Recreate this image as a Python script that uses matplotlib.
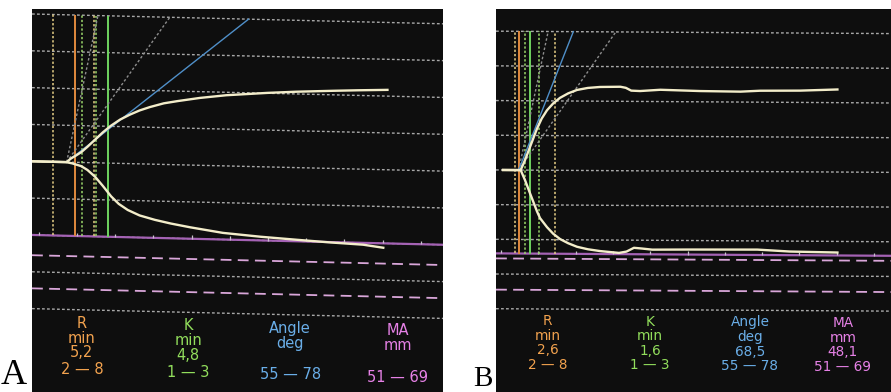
import numpy as np
import matplotlib
matplotlib.use("Agg")
import matplotlib.pyplot as plt
import matplotlib.transforms as mtransforms

# readout under each trace
param_names = ["R", "K", "Angle", "MA"]
param_units = ["min", "min", "deg", "mm"]
param_ranges = ["2 — 8", "1 — 3", "55 — 78", "51 — 69"]
param_colors = ["#f2a24e", "#92de5c", "#6aaee8", "#e681e6"]

# normal ranges
r_range = [2, 8]
k_range = [1, 3]
angle_range = [55, 78]
ma_range = [51, 69]

# horizontal grid (mm, half amplitude)
grid_levels = [40, 30, 20, 10, 0, -10, -20, -30, -40]
tick_step = 5.5

# panel A
a_values = ["5,2", "4,8", "", ""]
a_r, a_k = 5.2, 4.8
a_angle = 39
a_ma = 40.0
a_split = 4.0
a_up_t = [-1.0, 4.0, 4.6, 5.3, 6.1, 7.0, 8.1, 9.2, 10.4, 11.7, 13.1, 14.5, 16.0, 18.0,
          20.0, 23.2, 27.0, 32.9, 37.0, 42.4, 46.0, 50.2]
a_up_y = [0, 0, 1.0, 1.8, 2.8, 4.3, 6.3, 8.3, 10.2, 11.9, 13.3, 14.5, 15.5, 16.6,
          17.3, 18.3, 19.2, 20.1, 20.6, 21.1, 21.4, 21.7]
a_lo_t = [-1.0, 3.9, 4.8, 6.1, 7.0, 8.1, 9.2, 10.4, 11.5, 12.8, 14.5, 16.7, 19.0,
          21.8, 26.5, 31.9, 37.2, 42.0, 46.7, 49.6]
a_lo_y = [0, 0, -0.3, -1.0, -2.0, -3.8, -6.2, -9.0, -11.0, -12.6, -14.0, -15.1, -16.0,
          -16.9, -18.2, -19.0, -19.6, -20.1, -20.5, -21.2]

# panel B
b_values = ["2,6", "1,6", "68,5", "48,1"]
b_r, b_k = 2.6, 1.6
b_angle = 68.5
b_ma = 48.1
b_split = 2.6
b_up_t = [0.3, 2.9, 3.54, 4.28, 5.31, 6.0, 6.78, 7.7, 8.7, 9.9, 11.2, 12.8, 14.6, 17.6,
          18.4, 19.2, 20.5, 23.5, 29.4, 35.3, 38.2, 44.1, 49.6]
b_up_y = [0, 0, 2.9, 6.7, 12.0, 14.9, 17.3, 19.3, 20.9, 22.2, 23.2, 23.8, 24.1, 24.2,
          23.9, 23.1, 23.0, 23.4, 23.1, 23.0, 23.3, 23.4, 23.8]
b_lo_t = [0.3, 2.9, 3.54, 4.28, 5.31, 5.75, 6.78, 7.7, 8.7, 9.9, 11.2, 12.8, 14.6, 17.4,
          18.5, 19.6, 20.8, 22.3, 27.9, 37.8, 42.6, 49.6]
b_lo_y = [0, 0, -2.9, -6.7, -11.9, -13.8, -16.4, -18.3, -19.8, -21.0, -22.0, -22.7, -23.2,
          -23.7, -23.3, -22.2, -22.4, -22.7, -22.6, -22.5, -23.0, -23.2]

FIG_W, FIG_H, DPI = 891, 392, 100

def draw_panel(fig, box, xlim, ylim, tilt, p):
    # box in pixels: left, top, right, bottom
    l, t, r, b = box
    ax = fig.add_axes([l / FIG_W, 1 - b / FIG_H, (r - l) / FIG_W, (b - t) / FIG_H])
    ax.set_facecolor("#0e0e0e")
    for s in ax.spines.values():
        s.set_visible(False)
    ax.set_xticks([])
    ax.set_yticks([])
    ax.set_xlim(*xlim)
    ax.set_ylim(*ylim)
    ax.set_autoscale_on(False)

    # the photo is slightly skewed: shear y by time
    shear = mtransforms.Affine2D(np.array([[1, 0, 0], [-tilt, 1, 0], [0, 0, 1]]))
    tr = shear + ax.transData

    top = grid_levels[0]
    ma_line = -p["ma"] / 2

    ax.hlines(grid_levels, xlim[0], xlim[1], transform=tr, colors="#c4c4c4",
              linewidth=1.0, linestyles=(0, (2, 1.6)), alpha=0.85, zorder=1)
    ax.hlines([-v / 2 for v in ma_range], xlim[0], xlim[1], transform=tr,
              colors="#d9a6d9", linewidth=1.3, linestyles=(0, (6, 3.5)), zorder=2)
    ax.hlines([ma_line], xlim[0], xlim[1], transform=tr, colors="#a462b4",
              linewidth=1.6, zorder=2)
    ticks = np.arange(0, xlim[1], tick_step)
    ax.vlines(ticks, ma_line, ma_line + 0.9, transform=tr, colors="#c8c0cc",
              linewidth=0.9, zorder=2)

    # R and K markers
    r, k = p["r"], p["k"]
    ax.vlines(r_range, ma_line, top, transform=tr, colors="#e6cf86",
              linewidth=1.1, linestyles=(0, (1.5, 1.3)), zorder=3)
    ax.vlines([r + v for v in k_range], ma_line, top, transform=tr, colors="#9ad66a",
              linewidth=1.1, linestyles=(0, (1.5, 1.3)), zorder=3)
    ax.vlines([r], ma_line, top, transform=tr, colors="#e08a3e", linewidth=1.4, zorder=3)
    ax.vlines([r + k], ma_line, top, transform=tr, colors="#6fd460", linewidth=1.4, zorder=3)

    # angle lines, angle measured on screen
    px_min = ax.bbox.width / (xlim[1] - xlim[0])
    px_mm = ax.bbox.height / (ylim[1] - ylim[0])
    for deg, style, col in [(angle_range[0], (0, (1.8, 1.6)), "#8e8e8e"),
                            (angle_range[1], (0, (1.8, 1.6)), "#8e8e8e"),
                            (p["angle"], "-", "#4f8fc8")]:
        slope = np.tan(np.radians(deg)) * px_min / px_mm
        ax.plot([p["split"], p["split"] + top / slope], [0, top], transform=tr,
                color=col, linestyle=style, linewidth=1.0, zorder=4)

    # trace
    ax.plot(p["up_t"], p["up_y"], transform=tr, color="#f3edca", linewidth=1.7,
            solid_joinstyle="round", zorder=6)
    ax.plot(p["lo_t"], p["lo_y"], transform=tr, color="#f3edca", linewidth=1.7,
            solid_joinstyle="round", zorder=6)

    # readout
    for i, name in enumerate(param_names):
        x = p["cols"][i]
        rows = [name, param_units[i], p["values"][i], param_ranges[i]]
        for j, txt in enumerate(rows):
            if txt:
                ax.text(x, p["rows"][j], txt, transform=tr, ha="center", va="center",
                        color=param_colors[i], fontsize=p["fs"], family="DejaVu Sans",
                        zorder=7)
    return ax
#--

fig = plt.figure(figsize=(FIG_W / DPI, FIG_H / DPI), dpi=DPI)
fig.patch.set_facecolor("white")

panel_a = {"r": a_r, "k": a_k, "angle": a_angle, "ma": a_ma, "split": a_split,
           "up_t": a_up_t, "up_y": a_up_y, "lo_t": a_lo_t, "lo_y": a_lo_y,
           "values": a_values, "cols": [6.2, 21.5, 36.2, 51.7],
           "rows": [-43.6, -47.7, -51.7, -56.3], "fs": 10.5}
panel_b = {"r": b_r, "k": b_k, "angle": b_angle, "ma": b_ma, "split": b_split,
           "up_t": b_up_t, "up_y": b_up_y, "lo_t": b_lo_t, "lo_y": b_lo_y,
           "values": b_values, "cols": [6.9, 22.0, 36.7, 50.4],
           "rows": [-43.5, -47.7, -51.9, -56.05], "fs": 9.8}

draw_panel(fig, (32, 9, 443, 392), (-0.99, 58.2), (-62.6, 41.4), 0.045, panel_a)
draw_panel(fig, (496, 9, 891, 392), (-0.74, 57.5), (-64.0, 46.4), 0.012, panel_b)

fig.text(1 / FIG_W, 0.5 / FIG_H, "A", family="Liberation Serif", fontsize=26,
         ha="left", va="bottom", color="black")
fig.text(473 / FIG_W, 0.5 / FIG_H, "B", family="Liberation Serif", fontsize=21,
         ha="left", va="bottom", color="black")

fig.savefig("out.png", dpi=DPI, facecolor="white")
